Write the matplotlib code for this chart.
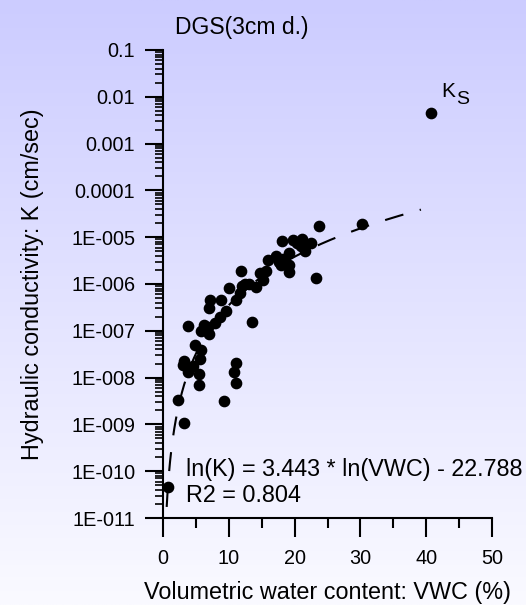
import numpy as np
import matplotlib
matplotlib.use("Agg")
import matplotlib.pyplot as plt
from matplotlib.ticker import FixedLocator, NullFormatter, FixedFormatter

plt.rcParams['font.family'] = ['Liberation Sans', 'DejaVu Sans']
plt.rcParams.update({
    'xtick.labelsize': 14.3, 'ytick.labelsize': 14.3,
    'xtick.direction': 'out', 'ytick.direction': 'out',
    'ytick.major.size': 13, 'ytick.major.width': 1.5, 'ytick.major.pad': 7,
    'ytick.minor.size': 6, 'ytick.minor.width': 1.2,
    'xtick.major.size': 13.5, 'xtick.major.width': 1.5, 'xtick.major.pad': 9,
    'xtick.minor.size': 7, 'xtick.minor.width': 1.5,
    'axes.linewidth': 1.5,
    'lines.scale_dashes': False,
})

# ---------------- data ----------------
vwc = [40.77, 30.20, 23.71, 23.21, 22.45, 21.58, 21.20, 20.32, 19.71, 18.04,
       19.15, 19.19, 19.19, 18.31, 17.93, 17.17, 16.00, 15.65, 14.74, 15.24,
       14.13, 13.07, 11.81, 11.96, 11.70, 11.09, 10.03, 13.57, 8.77, 7.14,
       7.04, 9.53, 8.66, 7.90, 6.28, 3.84, 5.73, 6.99, 4.86, 5.73,
       5.62, 3.24, 3.09, 4.51, 3.84, 5.52, 5.47, 11.14, 10.84, 11.05,
       9.32, 2.33, 3.24, 0.73, 6.30, 6.80, 17.60, 18.60, 20.90, 12.40]
k = [4.5e-3, 1.9e-5, 1.7e-5, 1.32e-6, 7.4e-6, 5.1e-6, 9.2e-6, 7.5e-6, 8.8e-6, 8.4e-6,
     4.7e-6, 2.6e-6, 1.78e-6, 3.45e-6, 2.57e-6, 4.06e-6, 3.18e-6, 1.91e-6, 1.71e-6, 1.23e-6,
     8.6e-7, 1.01e-6, 1.94e-6, 9.2e-7, 6.4e-7, 4.6e-7, 8.2e-7, 1.58e-7, 4.6e-7, 4.6e-7,
     3.05e-7, 2.6e-7, 2.0e-7, 1.46e-7, 1.34e-7, 1.28e-7, 1.01e-7, 8.6e-8, 5.0e-8, 3.9e-8,
     2.5e-8, 2.3e-8, 1.88e-8, 1.73e-8, 1.35e-8, 1.2e-8, 7.1e-9, 2.1e-8, 1.35e-8, 7.6e-9,
     3.2e-9, 3.4e-9, 1.07e-9, 4.7e-11, 1.1e-7, 1.2e-7, 3.0e-6, 3.0e-6, 6.5e-6, 1.0e-6]

fit_a = 3.443
fit_b = -22.788
fit_range = [0.56, 39.2]

ytick_vals = [1e-1, 1e-2, 1e-3, 1e-4, 1e-5, 1e-6, 1e-7, 1e-8, 1e-9, 1e-10, 1e-11]
ytick_labels = ['0.1', '0.01', '0.001', '0.0001', '1E-005', '1E-006', '1E-007',
                '1E-008', '1E-009', '1E-010', '1E-011']
xtick_vals = [0, 10, 20, 30, 40, 50]
xtick_labels = ['0', '10', '20', '30', '40', '50']
xminor_vals = [5, 15, 25, 35, 45]

title = 'DGS(3cm d.)'
xlabel = 'Volumetric water content: VWC (%)'
ylabel = 'Hydraulic conductivity: K (cm/sec)'
eq_text = 'ln(K) = 3.443 * ln(VWC) - 22.788'
r2_text = 'R2 = 0.804'

# ---------------- figure ----------------
W, H = 526, 605
fig = plt.figure(figsize=(W / 100, H / 100), dpi=100)

# gradient background
bg = fig.add_axes([0, 0, 1, 1], zorder=-10)
top = np.array([0xCC, 0xCC, 0xFF]) / 255.0
bot = np.array([0xFA, 0xFA, 0xFF]) / 255.0
t = np.linspace(0, 1, 256)[:, None]
grad = top[None, :] * (1 - t) + bot[None, :] * t
grad = np.repeat(grad[:, None, :], 2, axis=1)
bg.imshow(grad, aspect='auto', extent=[0, 1, 0, 1], origin='upper')
bg.axis('off')

def px(x, y):
    return x / W, 1 - y / H

L, R, T, B = 163, 492, 50, 518
ax = fig.add_axes([L / W, 1 - B / H, (R - L) / W, (B - T) / H])
ax.patch.set_alpha(0)
ax.set_yscale('log')

# fit line
xf = np.linspace(fit_range[0], fit_range[1], 600)
yf = np.exp(fit_a * np.log(xf) + fit_b)
ax.plot(xf, yf, color='black', lw=1.5, dashes=(13.7, 12.2),
        zorder=2, clip_on=False)

# points
ax.plot(vwc, k, 'o', color='black', ms=7.4, zorder=3, clip_on=False)

ax.set_xlim(0, 50)
ax.set_ylim(1e-11, 1e-1)

for s in ['top', 'right']:
    ax.spines[s].set_visible(False)

minors = []
for e in range(-11, -1):
    for m in range(2, 10):
        minors.append(m * 10.0 ** e)
ax.yaxis.set_major_locator(FixedLocator(ytick_vals))
ax.yaxis.set_major_formatter(FixedFormatter(ytick_labels))
ax.yaxis.set_minor_locator(FixedLocator(minors))
ax.yaxis.set_minor_formatter(NullFormatter())
ax.xaxis.set_major_locator(FixedLocator(xtick_vals))
ax.xaxis.set_major_formatter(FixedFormatter(xtick_labels))
ax.xaxis.set_minor_locator(FixedLocator(xminor_vals))
ax.xaxis.set_minor_formatter(NullFormatter())

# texts
fig.text(*px(242, 34), title, ha='center', va='baseline', fontsize=16.5)
fig.text(*px(327.5, 599), xlabel, ha='center', va='baseline', fontsize=16.8)
fig.text(*px(33, 284), ylabel, ha='center', va='center', rotation=90, fontsize=16.8)
fig.text(*px(185.7, 476), eq_text, ha='left', va='baseline', fontsize=16.8)
fig.text(*px(185.7, 501.7), r2_text, ha='left', va='baseline', fontsize=16.8)
fig.text(*px(441.5, 96.7), 'K', ha='left', va='baseline', fontsize=15)
fig.text(*px(456.5, 104), 'S', ha='left', va='baseline', fontsize=14)

fig.savefig('out.png', dpi=100)
